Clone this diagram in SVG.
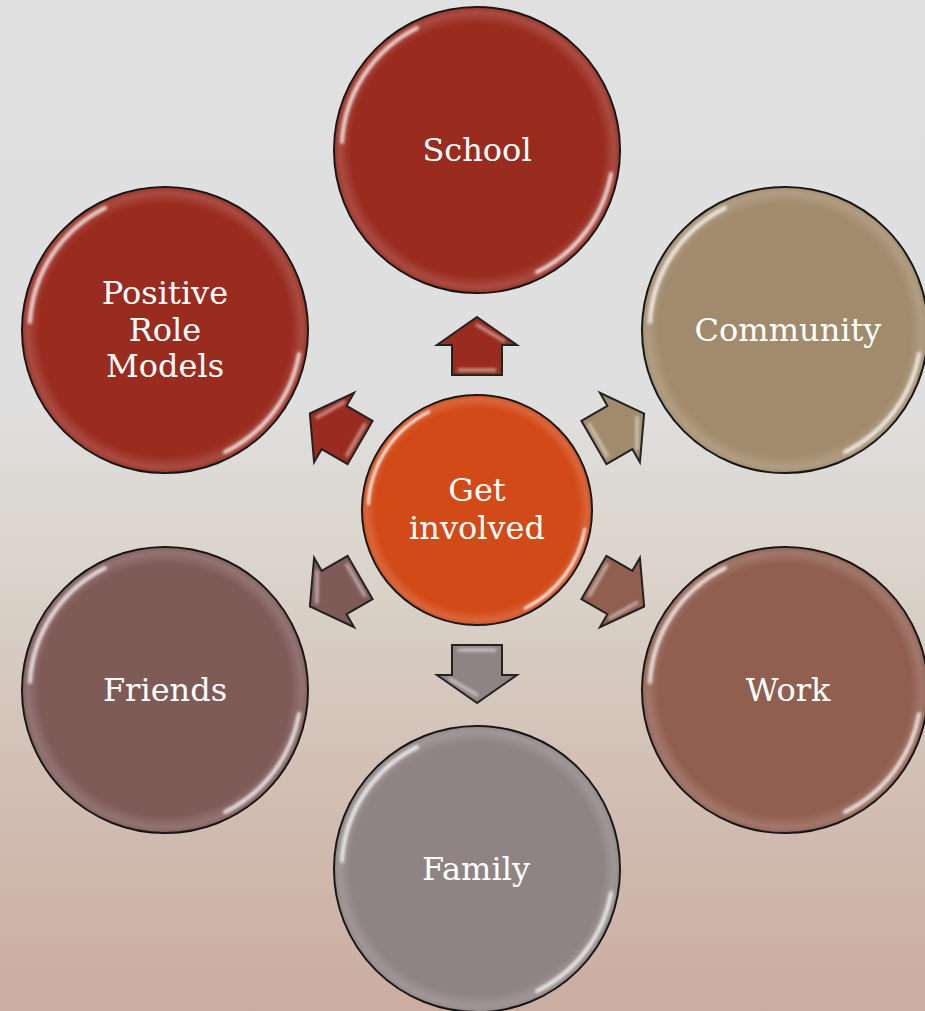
<svg xmlns="http://www.w3.org/2000/svg" width="925" height="1011" viewBox="0 0 925 1011">
<defs>
<linearGradient id="bg" x1="0" y1="0" x2="0" y2="1">
<stop offset="0" stop-color="#e0e0e0"/>
<stop offset="0.40" stop-color="#dfdfdf"/>
<stop offset="0.55" stop-color="#dbd5cb"/>
<stop offset="0.75" stop-color="#d3c1b6"/>
<stop offset="1" stop-color="#cbaca1"/>
</linearGradient>
<radialGradient id="rim" cx="0.5" cy="0.5" r="0.5">
<stop offset="0.88" stop-color="#fff" stop-opacity="0"/>
<stop offset="0.96" stop-color="#fff" stop-opacity="0.15"/>
<stop offset="1" stop-color="#fff" stop-opacity="0.05"/>
</radialGradient>
<filter id="soft" x="-20%" y="-20%" width="140%" height="140%">
<feGaussianBlur stdDeviation="1.6"/>
</filter>
<g id="gloss">
<circle r="143" fill="url(#rim)"/>
<path d="M-135,-8 A136,136 0 0 1 -60,-122" class="hl" filter="url(#soft)"/>
<path d="M134,24 A136,136 0 0 1 60,122" class="hl" filter="url(#soft)"/>
</g>
<path id="arr" d="M0,-29 L40,-1 L25,-1 L25,29 L-25,29 L-25,-1 L-40,-1 Z"/>
<path id="arrhl" d="M0,-21 L27,-5 M-18,24 L18,24" />
</defs>
<style>
.node{stroke:#111;stroke-width:2}
.hl{fill:none;stroke:#fff;stroke-opacity:0.8;stroke-width:4;stroke-linecap:round}
.lbl{font-family:"DejaVu Serif","Liberation Serif",serif;font-size:32px;fill:#fff;text-anchor:middle}
.arrow use.a{stroke:#222;stroke-width:2;stroke-linejoin:miter}
.arrow use.h{fill:none;stroke:#fff;stroke-opacity:0.55;stroke-width:3;stroke-linecap:round;filter:url(#soft)}
</style>
<rect width="925" height="1011" fill="url(#bg)"/>

<g id="connectors" class="arrow">
<g transform="translate(477,510) rotate(0) translate(0,-164)"><use href="#arr" class="a" fill="#9a2b1f"/><use href="#arrhl" class="h"/></g>
<g transform="translate(477,510) rotate(60) translate(0,-164)"><use href="#arr" class="a" fill="#a28b6c"/><use href="#arrhl" class="h"/></g>
<g transform="translate(477,510) rotate(120) translate(0,-164)"><use href="#arr" class="a" fill="#915f50"/><use href="#arrhl" class="h"/></g>
<g transform="translate(477,510) rotate(180) translate(0,-164)"><use href="#arr" class="a" fill="#8f8483"/><use href="#arrhl" class="h"/></g>
<g transform="translate(477,510) rotate(240) translate(0,-164)"><use href="#arr" class="a" fill="#7f5b58"/><use href="#arrhl" class="h"/></g>
<g transform="translate(477,510) rotate(300) translate(0,-164)"><use href="#arr" class="a" fill="#9a2b1f"/><use href="#arrhl" class="h"/></g>
</g>

<g id="node-school">
<circle cx="477" cy="150" r="143" class="node" fill="#9a2b1f"/>
<use href="#gloss" transform="translate(477,150)"/>
<text x="477" y="161" class="lbl">School</text>
</g>
<g id="node-community">
<circle cx="785" cy="330" r="143" class="node" fill="#a28b6c"/>
<use href="#gloss" transform="translate(785,330)"/>
<text x="788" y="341" class="lbl">Community</text>
</g>
<g id="node-work">
<circle cx="785" cy="690" r="143" class="node" fill="#915f50"/>
<use href="#gloss" transform="translate(785,690)"/>
<text x="788" y="701" class="lbl">Work</text>
</g>
<g id="node-family">
<circle cx="477" cy="869" r="143" class="node" fill="#8f8483"/>
<use href="#gloss" transform="translate(477,869)"/>
<text x="476" y="880" class="lbl">Family</text>
</g>
<g id="node-friends">
<circle cx="165" cy="690" r="143" class="node" fill="#7f5b58"/>
<use href="#gloss" transform="translate(165,690)"/>
<text x="165" y="701" class="lbl">Friends</text>
</g>
<g id="node-positive-role-models">
<circle cx="165" cy="330" r="143" class="node" fill="#9a2b1f"/>
<use href="#gloss" transform="translate(165,330)"/>
<text x="165" y="304" class="lbl">Positive</text>
<text x="165" y="341" class="lbl">Role</text>
<text x="165" y="377" class="lbl">Models</text>
</g>
<g id="node-center">
<circle cx="477" cy="510" r="115" class="node" fill="#d24a17"/>
<use href="#gloss" transform="translate(477,510) scale(0.804)"/>
<text x="477" y="501" class="lbl">Get</text>
<text x="477" y="539" class="lbl">involved</text>
</g>
</svg>
